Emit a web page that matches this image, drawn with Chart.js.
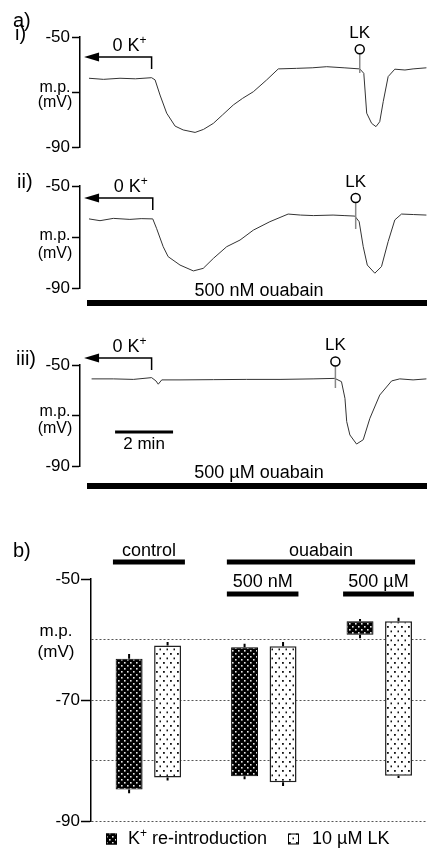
<!DOCTYPE html>
<html>
<head>
<meta charset="utf-8">
<script src="https://cdn.jsdelivr.net/npm/chart.js@4.4.1/dist/chart.umd.min.js"></script>
<style>
  html, body { margin: 0; padding: 0; background: #fff; }
  #page { position: relative; width: 427px; height: 848px; overflow: hidden; }
  canvas { position: absolute; left: 0; }
</style>
</head>
<body>
<div id="page">
  <canvas id="traceI" width="427" height="160" style="top:0px"></canvas>
  <canvas id="traceII" width="427" height="150" style="top:160px"></canvas>
  <canvas id="traceIII" width="427" height="180" style="top:310px"></canvas>
  <canvas id="barChart" width="427" height="358" style="top:490px"></canvas>
</div>
<script>
// a) membrane potential traces, time in min, m.p. in mV
const timesI = [0, 0.5, 1.07, 1.6, 2.16, 2.28, 2.45, 2.68, 2.97, 3.25, 3.66, 3.95, 4.29, 4.6, 4.98, 5.3, 5.67, 6.13, 6.53, 7.16, 7.7, 8.2, 8.8, 9.34, 9.48, 9.58, 9.75, 9.9, 10.03, 10.15, 10.32, 10.55, 10.9, 11.18, 11.64];
const vmI = [-65.0, -65.4, -65.0, -65.2, -64.8, -65.6, -71.1, -77.7, -82.4, -83.8, -84.7, -83.6, -81.4, -78.4, -74.7, -72.3, -69.9, -65.6, -61.6, -61.4, -61.2, -60.8, -61.2, -61.6, -63.2, -77.7, -81.4, -82.6, -80.8, -73.5, -64.4, -61.7, -62.0, -61.6, -61.2];

const timesII = [0, 0.38, 0.84, 1.41, 1.8, 2.2, 2.33, 2.56, 2.73, 3.14, 3.6, 3.94, 4.29, 4.75, 5.21, 5.67, 6.24, 6.87, 7.3, 7.74, 8.42, 8.8, 9.17, 9.32, 9.46, 9.6, 9.86, 10.09, 10.32, 10.55, 10.78, 11.2, 11.64];
const vmII = [-62.9, -63.6, -62.7, -63.1, -62.8, -62.9, -66.6, -73.8, -77.7, -81.0, -83.3, -82.3, -78.4, -73.8, -71.2, -67.3, -64.0, -61.0, -61.4, -61.6, -61.4, -61.6, -61.8, -64.0, -73.8, -81.0, -84.2, -81.6, -71.8, -63.3, -61.0, -61.2, -61.4];

const timesIII = [0.09, 0.84, 1.53, 2.16, 2.31, 2.39, 2.51, 3.14, 4.29, 5.44, 6.59, 7.73, 8.48, 8.71, 8.83, 8.89, 9.0, 9.23, 9.46, 9.69, 10.03, 10.44, 10.72, 11.18, 11.64];
const vmIII = [-55.5, -55.5, -55.7, -55.0, -56.3, -57.6, -55.9, -55.9, -55.8, -55.7, -55.7, -55.5, -55.3, -56.6, -63.2, -72.4, -77.7, -81.3, -79.6, -71.1, -61.9, -56.3, -55.5, -55.9, -55.5];

const zeroKOff = [2.16, 2.2, 2.16];   // end of the 0 K+ period
const zeroKStart = -0.17;
const lkTimes = [9.34, 9.2, 8.5];
const drugLabels = [null, '500 nM ouabain', '500 µM ouabain'];
const scaleBarStart = 0.9;
const scaleBarMin = 2;

// b) m.p. ranges (bar top/bottom) and error whiskers, mV
const kPositions = [0, 3, 6];
const kTop = [-63.2, -61.3, -57.0];
const kBottom = [-84.8, -82.6, -59.2];
const kErrTop = [-62.4, -60.7, -56.6];
const kErrBottom = [-85.4, -83.1, -59.8];

const lkPositions = [1, 4, 7];
const lkTop = [-61.0, -61.1, -57.0];
const lkBottom = [-82.8, -83.6, -82.5];
const lkErrTop = [-60.4, -60.4, -56.4];
const lkErrBottom = [-83.3, -84.2, -82.9];

const groupNames = ['control', 'ouabain', '500 nM', '500 µM'];
const groupFrom = [-0.42, 2.54, 2.54, 5.56];
const groupTo = [1.45, 7.43, 4.40, 7.40];
const barTickLabels = [-50, -70, -90];

const FONT = '"Liberation Sans", Arial, Helvetica, sans-serif';
Chart.defaults.font.family = FONT;
Chart.defaults.color = '#000';

function supText(ctx, pre, sup, post, x, y, size, align) {
    const big = size + 'px ' + FONT;
    const small = Math.round(size * 0.65) + 'px ' + FONT;
    ctx.font = big;
    const w1 = ctx.measureText(pre).width;
    const w3 = ctx.measureText(post).width;
    ctx.font = small;
    const w2 = ctx.measureText(sup).width;
    const total = w1 + w2 + w3;
    let x0 = x;
    if (align === 'right') x0 = x - total;
    if (align === 'center') x0 = x - total / 2;
    ctx.textAlign = 'left';
    ctx.textBaseline = 'middle';
    ctx.font = big;
    ctx.fillText(pre, x0, y);
    ctx.font = small;
    ctx.fillText(sup, x0 + w1, y - size * 0.3);
    ctx.font = big;
    ctx.fillText(post, x0 + w1 + w2, y);
}

// annotations on the traces: arrow, LK marker, drug bar, labels
const traceMarks = {
    id: 'traceMarks',
    afterDraw(chart, args, o) {
        const ctx = chart.ctx;
        const xs = chart.scales.x;
        ctx.save();
        ctx.fillStyle = '#000';
        ctx.strokeStyle = '#000';
        ctx.textBaseline = 'middle';
        ctx.textAlign = 'left';
        ctx.font = '20px ' + FONT;
        if (o.panel) ctx.fillText(o.panel, 13, o.panelY);
        ctx.fillText(o.roman, o.romanX, o.romanY);

        ctx.font = '16px ' + FONT;
        ctx.textAlign = 'center';
        ctx.fillText('m.p.', 55, o.mpY);
        ctx.fillText('(mV)', 55, o.mvY);

        // 0 K+ arrow
        const xTip = xs.getPixelForValue(zeroKStart);
        const xEnd = xs.getPixelForValue(zeroKOff[o.idx]);
        ctx.lineWidth = 1.5;
        ctx.beginPath();
        ctx.moveTo(xTip + 12, o.arrowY);
        ctx.lineTo(xEnd, o.arrowY);
        ctx.lineTo(xEnd, o.arrowY + 12);
        ctx.stroke();
        ctx.beginPath();
        ctx.moveTo(xTip, o.arrowY);
        ctx.lineTo(xTip + 15, o.arrowY - 4.5);
        ctx.lineTo(xTip + 15, o.arrowY + 4.5);
        ctx.closePath();
        ctx.fill();
        supText(ctx, '0 K', '+', '', xEnd - 5, o.arrowY - 11, 18, 'right');

        // LK application
        const xLk = xs.getPixelForValue(lkTimes[o.idx]);
        ctx.strokeStyle = '#888';
        ctx.lineWidth = 1.5;
        ctx.beginPath();
        ctx.moveTo(xLk, o.lkY + 4.5);
        ctx.lineTo(xLk, o.lkLineEnd);
        ctx.stroke();
        ctx.strokeStyle = '#000';
        ctx.beginPath();
        ctx.arc(xLk, o.lkY, 4.5, 0, Math.PI * 2);
        ctx.stroke();
        ctx.font = '17px ' + FONT;
        ctx.textAlign = 'center';
        ctx.fillText('LK', xLk, o.lkY - 16);

        if (drugLabels[o.idx]) {
            ctx.font = '18px ' + FONT;
            ctx.fillText(drugLabels[o.idx], 259, o.drugTextY);
            ctx.fillRect(87, o.drugBarY - 3, 427 - 87, 6);
        }
        if (o.scaleY) {
            const x1 = xs.getPixelForValue(scaleBarStart);
            const x2 = xs.getPixelForValue(scaleBarStart + scaleBarMin);
            ctx.fillRect(x1, o.scaleY - 1.5, x2 - x1, 3);
            ctx.font = '17px ' + FONT;
            ctx.fillText(scaleBarMin + ' min', (x1 + x2) / 2, o.scaleY + 12);
        }
        ctx.restore();
    }
};

function makeTrace(id, times, vm, marks) {
    return new Chart(document.getElementById(id), {
        type: 'line',
        data: {
            datasets: [{
                data: times.map((t, i) => ({ x: t, y: vm[i] })),
                borderColor: '#333',
                borderWidth: 1,
                pointRadius: 0,
                tension: 0
            }]
        },
        options: {
            responsive: false,
            animation: false,
            layout: { padding: { top: marks.padTop, bottom: marks.padBottom, left: 0, right: 0 } },
            plugins: {
                legend: { display: false },
                tooltip: { enabled: false },
                traceMarks: marks
            },
            scales: {
                x: { type: 'linear', display: false, min: -0.31, max: 11.66 },
                y: {
                    min: -90,
                    max: -50,
                    afterFit: scale => { scale.width = 80; },
                    ticks: {
                        stepSize: 20,
                        callback: v => (v === -70 ? '' : String(v)),
                        font: { size: 17 },
                        color: '#000',
                        padding: 2
                    },
                    grid: { drawOnChartArea: false, tickLength: 8, tickColor: '#000', tickWidth: 1.5 },
                    border: { color: '#000', width: 1.5 }
                }
            }
        },
        plugins: [traceMarks]
    });
}

makeTrace('traceI', timesI, vmI, {
    idx: 0, padTop: 37, padBottom: 13, panel: 'a)', panelY: 21.5,
    roman: 'i)', romanX: 15, romanY: 34.5, mpY: 87.5, mvY: 103,
    arrowY: 57, lkY: 49.3, lkLineEnd: 73
});
makeTrace('traceII', timesII, vmII, {
    idx: 1, padTop: 26, padBottom: 22,
    roman: 'ii)', romanX: 17, romanY: 22, mpY: 76, mvY: 93.5,
    arrowY: 38, lkY: 38, lkLineEnd: 69, drugTextY: 131, drugBarY: 143
});
makeTrace('traceIII', timesIII, vmIII, {
    idx: 2, padTop: 55, padBottom: 24,
    roman: 'iii)', romanX: 16, romanY: 49.5, mpY: 101.7, mvY: 119,
    arrowY: 48, lkY: 51.5, lkLineEnd: 78, drugTextY: 163, drugBarY: 176, scaleY: 122
});

// dotted fills for the bars
const barCanvas = document.getElementById('barChart');
function dotPattern(bg, fg, w, h, dots, size) {
    const tile = document.createElement('canvas');
    tile.width = w;
    tile.height = h;
    const g = tile.getContext('2d');
    g.fillStyle = bg;
    g.fillRect(0, 0, w, h);
    g.fillStyle = fg;
    dots.forEach(([x, y]) => g.fillRect(x, y, size, size));
    return barCanvas.getContext('2d').createPattern(tile, 'repeat');
}
const darkDots = dotPattern('#000', '#e8e8e8', 6, 6, [[1, 1], [4, 4]], 1.6);
const lightDots = dotPattern('#fff', '#111', 7, 9, [[2, 1], [5.5, 5.5]], 1.8);

const barMarks = {
    id: 'barMarks',
    afterDatasetsDraw(chart) {
        const ctx = chart.ctx;
        const xs = chart.scales.x;
        const ys = chart.scales.y;
        ctx.save();
        ctx.strokeStyle = '#000';
        ctx.lineWidth = 2;
        const whisk = (pos, top, bot, eTop, eBot) => {
            pos.forEach((p, i) => {
                const x = xs.getPixelForValue(p);
                ctx.beginPath();
                ctx.moveTo(x, ys.getPixelForValue(top[i]));
                ctx.lineTo(x, ys.getPixelForValue(eTop[i]));
                ctx.moveTo(x, ys.getPixelForValue(bot[i]));
                ctx.lineTo(x, ys.getPixelForValue(eBot[i]));
                ctx.stroke();
            });
        };
        whisk(kPositions, kTop, kBottom, kErrTop, kErrBottom);
        whisk(lkPositions, lkTop, lkBottom, lkErrTop, lkErrBottom);
        ctx.restore();
    },
    afterDraw(chart) {
        const ctx = chart.ctx;
        const xs = chart.scales.x;
        ctx.save();
        ctx.fillStyle = '#000';
        ctx.textBaseline = 'middle';
        ctx.textAlign = 'left';
        ctx.font = '20px ' + FONT;
        ctx.fillText('b)', 13, 61.7);

        ctx.font = '17px ' + FONT;
        ctx.textAlign = 'center';
        ctx.fillText('m.p.', 56, 141);
        ctx.fillText('(mV)', 56, 162.5);

        // treatment group labels
        const rowText = [61, 61, 91.7, 91.7];
        const rowBar = [72, 72, 104, 104];
        ctx.font = '18px ' + FONT;
        groupNames.forEach((name, i) => {
            const x1 = xs.getPixelForValue(groupFrom[i]);
            const x2 = xs.getPixelForValue(groupTo[i]);
            ctx.fillText(name, (x1 + x2) / 2, rowText[i]);
            ctx.fillRect(x1, rowBar[i] - 2.5, x2 - x1, 5);
        });

        // legend
        const ly = 349;
        ctx.lineWidth = 1;
        ctx.strokeStyle = '#000';
        ctx.fillStyle = darkDots;
        ctx.fillRect(106, ly - 5.5, 11, 11);
        ctx.strokeRect(106.5, ly - 5, 10, 10);
        ctx.fillStyle = lightDots;
        ctx.fillRect(288, ly - 5.5, 11, 11);
        ctx.strokeRect(288.5, ly - 5, 10, 10);
        ctx.fillStyle = '#000';
        supText(ctx, 'K', '+', ' re-introduction', 128, ly, 18, 'left');
        ctx.font = '18px ' + FONT;
        ctx.textAlign = 'left';
        ctx.fillText('10 µM LK', 312, ly);
        ctx.restore();
    }
};

new Chart(barCanvas, {
    type: 'bar',
    data: {
        datasets: [{
            label: 'K+ re-introduction',
            data: kPositions.map((x, i) => ({ x: x, y: [kBottom[i], kTop[i]] })),
            backgroundColor: darkDots,
            borderColor: '#000',
            borderWidth: 1,
            borderSkipped: false,
            grouped: false
        }, {
            label: '10 µM LK',
            data: lkPositions.map((x, i) => ({ x: x, y: [lkBottom[i], lkTop[i]] })),
            backgroundColor: lightDots,
            borderColor: '#222',
            borderWidth: 1.5,
            borderSkipped: false,
            grouped: false
        }]
    },
    options: {
        responsive: false,
        animation: false,
        layout: { padding: { top: 89, bottom: 27, left: 0, right: 0 } },
        datasets: { bar: { barPercentage: 0.7, categoryPercentage: 1 } },
        plugins: { legend: { display: false }, tooltip: { enabled: false } },
        scales: {
            x: { type: 'linear', display: false, offset: false, min: -0.99, max: 7.74 },
            y: {
                min: -90,
                max: -50,
                afterFit: scale => { scale.width = 91; },
                ticks: {
                    stepSize: 10,
                    callback: v => (barTickLabels.includes(v) ? String(v) : ''),
                    font: { size: 17 },
                    color: '#000',
                    padding: 1
                },
                grid: {
                    color: c => (c.tick && c.tick.value === -50 ? 'rgba(0,0,0,0)' : '#555'),
                    lineWidth: 1,
                    tickLength: 10,
                    tickWidth: 1.5,
                    tickColor: c => (c.tick && barTickLabels.includes(c.tick.value) ? '#000' : 'rgba(0,0,0,0)')
                },
                border: { color: '#000', width: 1.5, dash: [2, 2] }
            }
        }
    },
    plugins: [barMarks]
});
</script>
</body>
</html>
